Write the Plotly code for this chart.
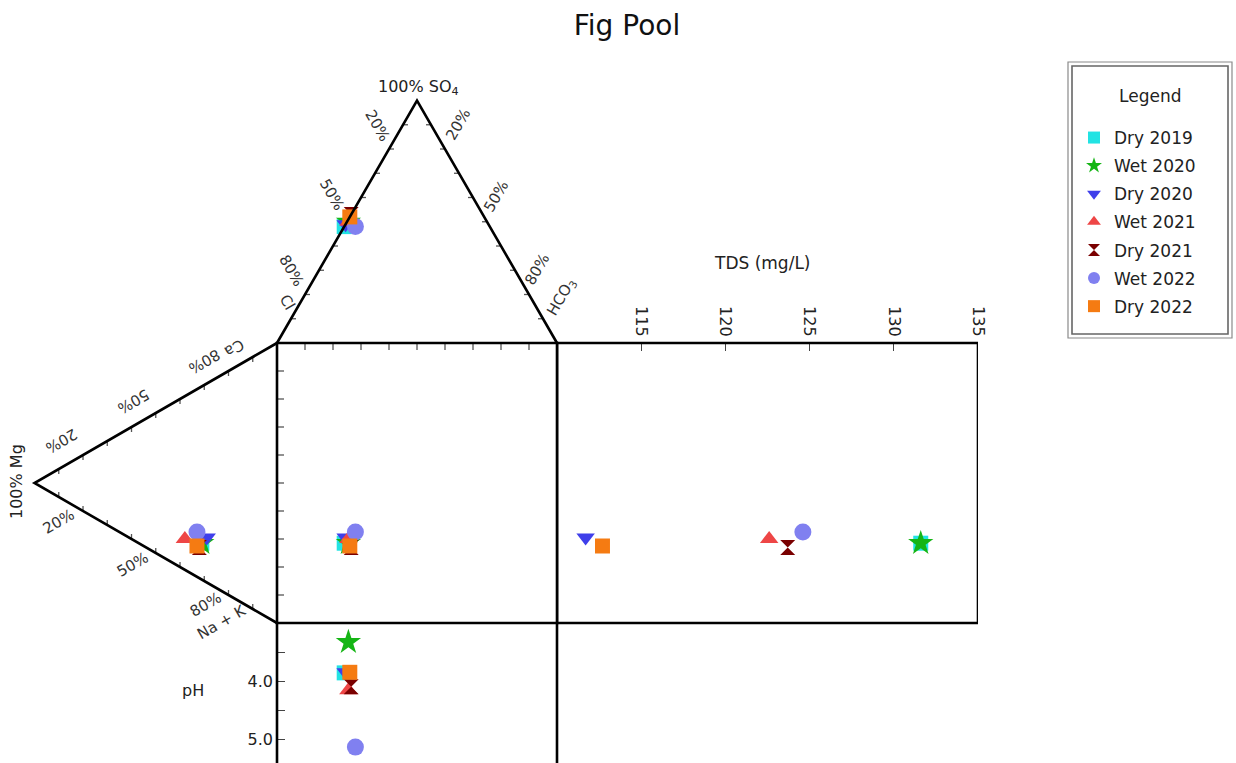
import numpy as np
import plotly.graph_objects as go

# ---------------- data (ionic percentages, TDS, pH) ----------------
labels = ["Dry 2019", "Wet 2020", "Dry 2020", "Wet 2021", "Dry 2021", "Wet 2022", "Dry 2022"]
ca_pct   = [13, 13, 16, 11, 11, 16, 11]
mg_pct   = [31, 31, 29, 38, 32, 33, 33]
nak_pct  = [56, 56, 55, 51, 57, 51, 56]
cl_pct   = [52, 49.5, 51, 49.5, 47, 48, 48]
so4_pct  = [48, 50, 49, 50, 53, 48, 52]
hco3_pct = [0, 0.5, 0, 0.5, 0, 4, 0]
tds_mgl  = [131.6, 131.6, 111.7, 122.6, 123.7, 124.6, 112.7]
ph_vals  = [3.86, 3.33, 3.85, 4.16, 4.10, 5.14, 3.85]
tds_ticks = [115, 120, 125, 130, 135]
ph_ticks = [4.0, 5.0]
ph_ticktext = ["4.0", "5.0"]

# ---------------- styles ----------------
colors = ["#22E3E3", "#15B515", "#3F3FEA", "#EE4646", "#7A0000", "#8080F0", "#F57B12"]
symbols = ["square", "star", "triangle-down", "triangle-up", "hourglass", "circle", "square"]
sizes = [15, 19, 16, 16, 15, 17, 15]
FONT = "DejaVu Sans, Arial, sans-serif"

# ---------------- layout geometry (pixels) ----------------
W, H = 1236, 763
U = 280.0            # pixels per diagram unit (square side)
OX, OY = 277, 623    # pixel of square bottom-left corner
TDS_RIGHT = 978      # pixel of TDS box right edge
S = np.sqrt(3) / 2


def paper(px, py):
    return px / W, 1 - py / H


# Durov projections (diagram units, square = [0,1]x[0,1])
def top_tri(so4, hco3):
    return hco3 + so4 * 0.5, 1 + so4 * S


def left_tri(ca, mg):
    return -S * mg, ca + 0.5 * mg


fig = go.Figure()

# ---------------- tick marks along frames ----------------
tx, ty = [], []
L1 = 7 / U
L2 = 5 / U
for k in range(1, 10):
    t = k / 10
    tx += [t, t, None]; ty += [1, 1 - L1, None]
    tx += [0, L1, None]; ty += [t, t, None]
    px_, py_ = 0 + 0.5 * t, 1 + S * t
    tx += [px_, px_ + L2, None]; ty += [py_, py_, None]
    px_, py_ = 1 - 0.5 * t, 1 + S * t
    tx += [px_, px_ - L2, None]; ty += [py_, py_, None]
    px_, py_ = -S * t, 1 - 0.5 * t
    tx += [px_, px_, None]; ty += [py_, py_ - L2, None]
    px_, py_ = -S * t, 0.5 * t
    tx += [px_, px_, None]; ty += [py_, py_ + L2, None]
fig.add_trace(go.Scatter(x=tx, y=ty, mode="lines", line=dict(color="#555555", width=1.3),
                         hoverinfo="skip", showlegend=False))

# ---------------- sample markers ----------------
for i, name in enumerate(labels):
    so4 = so4_pct[i] / 100; hco3 = hco3_pct[i] / 100
    ca = ca_pct[i] / 100; mg = mg_pct[i] / 100
    ax_, ay_ = top_tri(so4, hco3)
    cx_, cy_ = left_tri(ca, mg)
    sx, sy = ax_, cy_
    mk = dict(symbol=symbols[i], color=colors[i], size=sizes[i], line=dict(width=0))
    fig.add_trace(go.Scatter(x=[ax_, cx_, sx], y=[ay_, cy_, sy], mode="markers", marker=mk,
                             name=name, legendgroup=name, showlegend=True, hoverinfo="name"))
    fig.add_trace(go.Scatter(x=[tds_mgl[i]], y=[sy], xaxis="x2", yaxis="y", mode="markers",
                             marker=mk, name=name, legendgroup=name, showlegend=False,
                             cliponaxis=False))
    fig.add_trace(go.Scatter(x=[sx], y=[ph_vals[i]], xaxis="x", yaxis="y3", mode="markers",
                             marker=mk, name=name, legendgroup=name, showlegend=False,
                             cliponaxis=False))

# ---------------- frames ----------------
lw = dict(color="black", width=2.6)
shapes = [
    dict(type="path", xref="x", yref="y", line=lw, path=f"M 0,1 L 0.5,{1 + S} L 1,1"),
    dict(type="path", xref="x", yref="y", line=lw, path=f"M 0,1 L {-S},0.5 L 0,0"),
    dict(type="rect", xref="x", yref="y", x0=0, y0=0, x1=1, y1=1, line=lw),
    dict(type="rect", xref="x2", yref="y", x0=110, x1=135, y0=0, y1=1, line=lw),
    dict(type="line", xref="x", yref="y", x0=0, x1=0, y0=0, y1=-0.6, line=lw),
    dict(type="line", xref="x", yref="y", x0=1, x1=1, y0=0, y1=-0.6, line=lw),
]
x0, y0 = paper(1068, 62); x1, y1 = paper(1232, 338)
shapes.append(dict(type="rect", xref="paper", yref="paper", x0=x0, y0=y0, x1=x1, y1=y1,
                   line=dict(color="#8a8a8a", width=1.2)))
x0, y0 = paper(1072, 66); x1, y1 = paper(1228, 334)
shapes.append(dict(type="rect", xref="paper", yref="paper", x0=x0, y0=y0, x1=x1, y1=y1,
                   line=dict(color="#666666", width=1.6)))

# ---------------- labels ----------------
ann = []


def add_text(txt, px, py, angle=0, size=15, color="#333333"):
    x, y = paper(px, py)
    ann.append(dict(text=txt, x=x, y=y, xref="paper", yref="paper", showarrow=False,
                    textangle=angle, xanchor="center", yanchor="middle",
                    font=dict(family=FONT, size=size, color=color)))


add_text("100% SO<sub>4</sub>", 418, 88, 0, 16, "#222222")
for txt, px, py in [("20%", 377, 125), ("50%", 332, 195), ("80%", 291, 270), ("Cl", 287, 302)]:
    add_text(txt, px, py, 60)
for txt, px, py in [("20%", 458, 125), ("50%", 496, 197), ("80%", 537, 270), ("HCO<sub>3</sub>", 561, 297)]:
    add_text(txt, px, py, -60)
for txt, px, py in [("20%", 61, 441), ("50%", 134, 401), ("80%", 205, 361), ("Ca", 234, 348)]:
    add_text(txt, px, py, 150)
for txt, px, py in [("20%", 58, 522), ("50%", 132, 565), ("80%", 205, 605), ("Na + K", 222, 622)]:
    add_text(txt, px, py, -30)
add_text("100% Mg", 17, 482, -90, 16, "#222222")
add_text("TDS (mg/L)", 762, 263, 0, 17, "#222222")
add_text("pH", 193, 690, 0, 16, "#222222")
add_text("Legend", 1150, 96, 0, 17, "#222222")

# ---------------- axes ----------------
fig.update_layout(
    width=W, height=H, autosize=False,
    margin=dict(l=0, r=0, t=0, b=0, autoexpand=False),
    paper_bgcolor="white", plot_bgcolor="rgba(0,0,0,0)",
    title=dict(text="Fig Pool", x=627 / W, xanchor="center", y=1 - 25 / H, yanchor="middle",
               yref="container", font=dict(family=FONT, size=28, color="#111111")),
    xaxis=dict(domain=[0, 1], range=[(0 - OX) / U, (W - OX) / U], visible=False, fixedrange=True),
    yaxis=dict(domain=[0, 1], range=[(OY - H) / U, OY / U], visible=False, fixedrange=True),
    xaxis2=dict(domain=[(OX + U) / W, TDS_RIGHT / W], range=[110, 135], anchor="free",
                position=1 - (OY - U) / H, side="top", showgrid=False, zeroline=False,
                showline=False, ticks="inside", ticklen=7, tickwidth=1.3, tickcolor="#444444",
                tickvals=tds_ticks, tickangle=90, ticklabelstandoff=4,
                tickfont=dict(family=FONT, size=16, color="#222222"), fixedrange=True),
    yaxis3=dict(domain=[0, (H - OY) / H], range=[3 + (H - OY) / 58.0, 3.0], anchor="free",
                position=OX / W, side="left", showgrid=False, zeroline=False, showline=False,
                ticks="inside", ticklen=7, tickwidth=1.3, tickcolor="#444444",
                tickvals=ph_ticks, ticktext=ph_ticktext, ticklabelstandoff=4,
                minor=dict(tick0=3.5, dtick=1, ticks="inside", ticklen=7, tickwidth=1.3,
                           tickcolor="#444444", showgrid=False),
                tickfont=dict(family=FONT, size=16, color="#222222"), fixedrange=True),
    showlegend=True,
    legend=dict(x=1074 / W, y=1 - 120 / H, xanchor="left", yanchor="top",
                bgcolor="rgba(0,0,0,0)", borderwidth=0, itemsizing="constant",
                tracegroupgap=3, font=dict(family=FONT, size=17, color="#222222"),
                traceorder="grouped"),
    shapes=shapes, annotations=ann, hovermode=False,
)

fig.write_html("out.html", config={"displayModeBar": False},
               post_script="document.body.style.margin='0';document.body.style.overflow='hidden';")
